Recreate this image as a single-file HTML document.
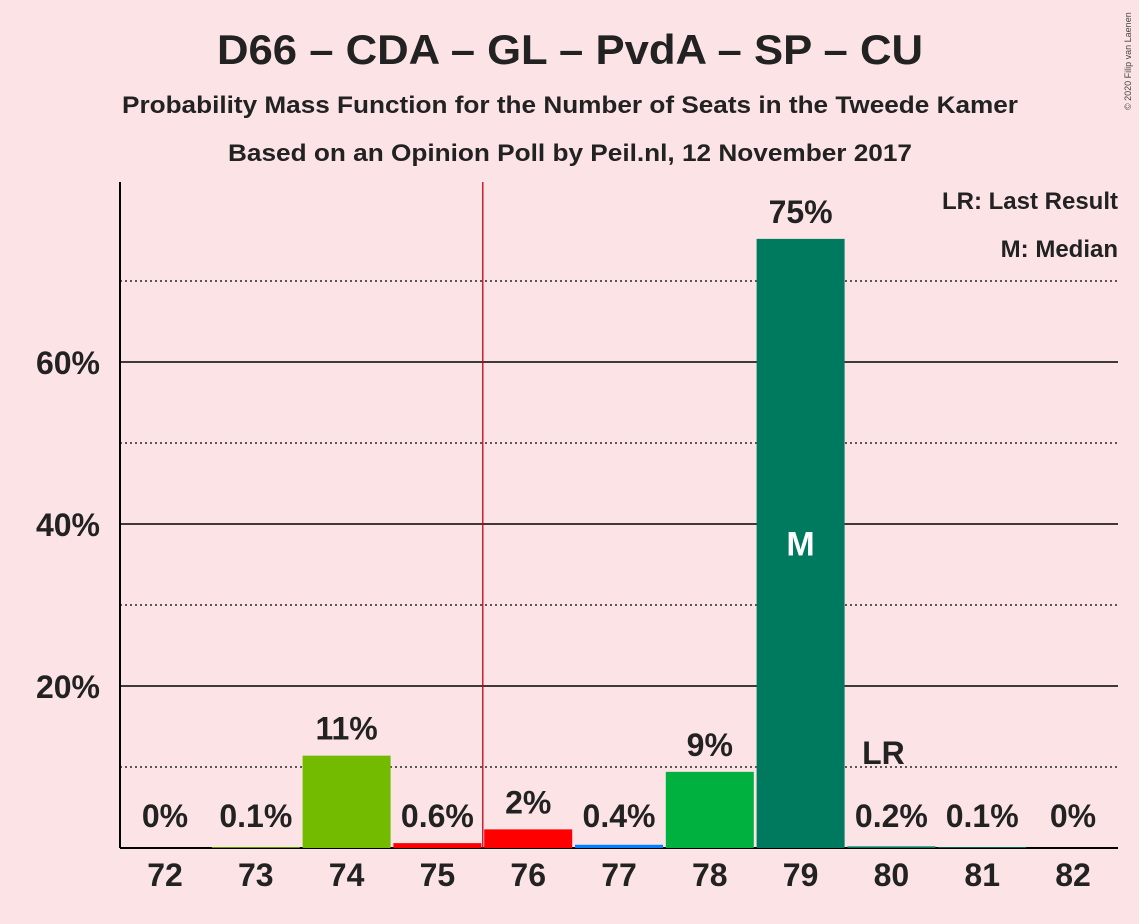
<!DOCTYPE html>
<html><head><meta charset="utf-8"><style>
body{margin:0;background:#fce4e6;}
svg{display:block;font-family:"Liberation Sans",sans-serif;font-weight:bold;}
</style></head><body>
<svg id="chart" width="1139" height="924">
<rect width="1139" height="924" fill="#fce4e6"/>
<text x="570" y="64" text-anchor="middle" font-size="42" fill="#222" textLength="706" lengthAdjust="spacingAndGlyphs">D66 – CDA – GL – PvdA – SP – CU</text>
<text x="570" y="113" text-anchor="middle" font-size="24" fill="#222" textLength="896" lengthAdjust="spacingAndGlyphs">Probability Mass Function for the Number of Seats in the Tweede Kamer</text>
<text x="570" y="161" text-anchor="middle" font-size="24" fill="#222" textLength="684" lengthAdjust="spacingAndGlyphs">Based on an Opinion Poll by Peil.nl, 12 November 2017</text>
<text x="1131" y="110" font-size="9" font-weight="normal" fill="#444" transform="rotate(-90 1131 110)">© 2020 Filip van Laenen</text>
<text x="1118" y="209" text-anchor="end" font-size="24" fill="#222">LR: Last Result</text>
<text x="1118" y="257" text-anchor="end" font-size="24" fill="#222">M: Median</text>
<g id="grid"></g>
<g id="bars"></g>
<g id="labels"></g>
</svg>
<script>
const seats=[72,73,74,75,76,77,78,79,80,81,82];
const probs=[0,0.1,11.4,0.6,2.3,0.4,9.4,75.2,0.2,0.1,0];
const probLabels=["0%","0.1%","11%","0.6%","2%","0.4%","9%","75%","0.2%","0.1%","0%"];
const colors=["#73bb00","#73bb00","#73bb00","#ff0000","#ff0000","#0080ff","#00b140","#007a5e","#007a5e","#007a5e","#007a5e"];
const yTicks=[20,40,60];
const yDotted=[10,30,50,70];
const lastResult=75.5, median=79;
const NS="http://www.w3.org/2000/svg";
const y0=848, pxPer=8.1, x72=165, step=90.8, bw=88;
const yS=v=>y0-v*pxPer, xS=s=>x72+(s-72)*step;
function mk(tag,attrs,parent,txt){const e=document.createElementNS(NS,tag);for(const k in attrs)e.setAttribute(k,attrs[k]);if(txt!==undefined)e.textContent=txt;document.getElementById(parent).appendChild(e);return e;}
yDotted.forEach(v=>{const l=mk('line',{x1:120,x2:1118,y1:yS(v),y2:yS(v),stroke:'#000','stroke-width':1.3,'stroke-dasharray':'2,3'},'grid');

});
yTicks.forEach(v=>{const l=mk('line',{x1:120,x2:1118,y1:yS(v),y2:yS(v),stroke:'#000','stroke-width':1.6},'grid');


const t=mk('text',{x:100,y:yS(v)+12,'text-anchor':'end','font-size':32,fill:'#222'},'grid',v+'%');

});
const ax=mk('line',{x1:120,x2:120,y1:182,y2:y0,stroke:'#000','stroke-width':2},'grid');


const bx=mk('line',{x1:120,x2:1118,y1:y0,y2:y0,stroke:'#000','stroke-width':2},'grid');


const lr=mk('line',{x1:xS(lastResult),x2:xS(lastResult),y1:182,y2:y0,stroke:'#c0001a','stroke-width':1.3},'grid');


seats.forEach((s,i)=>{
 const x=xS(s), top=yS(probs[i]);
 const r=mk('rect',{x:x-bw/2,y:top,width:bw,height:y0-top,fill:colors[i]},'bars');
 
 
 const ly=probs[i]>1.5?top-16:y0-21;
 const t=mk('text',{x:x,y:ly,'text-anchor':'middle','font-size':32,fill:'#222'},'labels',probLabels[i]);
 
 
 const xt=mk('text',{x:x,y:886,'text-anchor':'middle','font-size':32,fill:'#222'},'labels',s);
 
 
});
const m=mk('text',{x:xS(median),y:yS(probs[seats.indexOf(median)]/2)+12,'text-anchor':'middle','font-size':34,fill:'#fff'},'labels','M');


const lrt=mk('text',{x:xS(80)-8,y:yS(10)-3,'text-anchor':'middle','font-size':32,fill:'#222'},'labels','LR');


</script>
</body></html>
